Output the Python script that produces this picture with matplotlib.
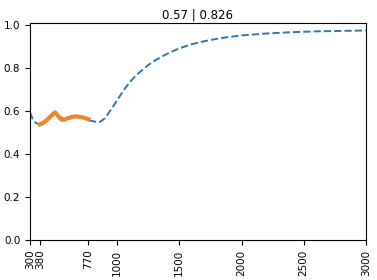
import matplotlib
matplotlib.use("Agg")
import matplotlib.pyplot as plt

# full-range curve (dashed)
FULL_X = [300, 320, 340, 360, 380, 420, 460, 500, 540, 580, 620, 660, 700, 740,
          780, 820, 860, 900, 940, 980, 1020, 1060, 1100, 1150, 1200, 1250, 1300,
          1400, 1500, 1600, 1700, 1800, 1900, 2000, 2200, 2400, 2600, 2800, 3000]
FULL_Y = [0.593, 0.565, 0.548, 0.541, 0.538, 0.550, 0.570, 0.590, 0.575, 0.560,
          0.565, 0.573, 0.572, 0.566, 0.556, 0.551, 0.549, 0.565, 0.598, 0.632,
          0.668, 0.703, 0.733, 0.765, 0.790, 0.814, 0.834, 0.866, 0.892, 0.911,
          0.925, 0.936, 0.945, 0.952, 0.961, 0.967, 0.971, 0.973, 0.975]

# visible-range segment (solid)
VIS_X = [380, 400, 430, 460, 490, 500, 510, 530, 550, 570, 600, 630, 660, 690, 720, 750, 770]
VIS_Y = [0.538, 0.543, 0.556, 0.572, 0.589, 0.594, 0.589, 0.574, 0.561, 0.559,
         0.566, 0.572, 0.575, 0.574, 0.571, 0.566, 0.562]

TICKS = [300, 380, 770, 1000, 1500, 2000, 2500, 3000]
TITLE = "0.57 | 0.826"

plt.rcParams["font.size"] = 7.5

fig = plt.figure(figsize=(3.77, 2.8), dpi=100)
ax = fig.add_axes([0.0796, 0.143, 0.891, 0.775])
ax.plot(FULL_X, FULL_Y, "--", color="#2f78ad", lw=1.4)
ax.plot(VIS_X, VIS_Y, "-", color="#f0862a", lw=3)
ax.set_xlim(300, 3000)
ax.set_ylim(0, 1.01)
ax.set_xticks(TICKS)
ax.set_xticklabels([str(t) for t in TICKS], rotation=90)
ax.set_title(TITLE, fontsize=8.5, pad=3)

fig.savefig("out.png", dpi=100)
